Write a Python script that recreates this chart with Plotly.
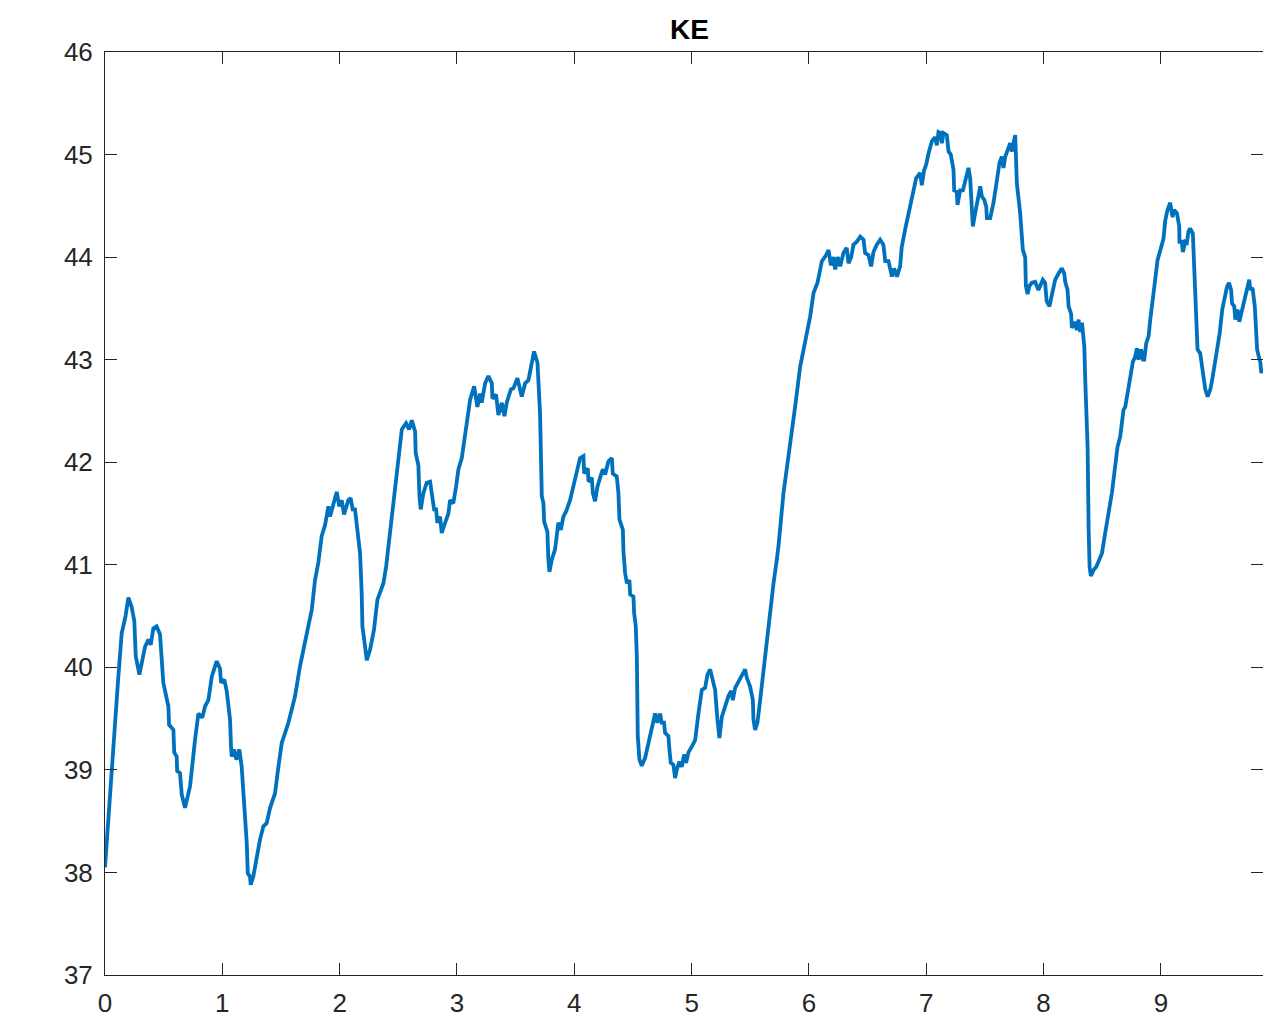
import plotly.graph_objects as go

# Time axis (s) and kinetic energy samples of the KE trace
t_vals = [
    0.000, 0.035, 0.070, 0.110, 0.142, 0.175, 0.199, 0.227, 0.250, 0.262,
    0.293, 0.341, 0.370, 0.390, 0.412, 0.440, 0.469, 0.497, 0.540, 0.546,
    0.583, 0.590, 0.611, 0.615, 0.639, 0.654, 0.682, 0.725, 0.767, 0.796,
    0.830, 0.853, 0.881, 0.910, 0.952, 0.980, 0.989, 1.017, 1.037, 1.066,
    1.074, 1.080, 1.100, 1.120, 1.145, 1.165, 1.208, 1.217, 1.236, 1.242,
    1.264, 1.293, 1.321, 1.350, 1.378, 1.407, 1.449, 1.478, 1.506, 1.535,
    1.563, 1.605, 1.620, 1.662, 1.690, 1.720, 1.762, 1.790, 1.818, 1.847,
    1.876, 1.904, 1.918, 1.946, 1.975, 1.997, 2.018, 2.037, 2.074, 2.094,
    2.111, 2.131, 2.151, 2.174, 2.188, 2.194, 2.217, 2.231, 2.259, 2.293,
    2.322, 2.350, 2.373, 2.396, 2.415, 2.444, 2.472, 2.500, 2.530, 2.566,
    2.592, 2.615, 2.643, 2.648, 2.671, 2.680, 2.691, 2.714, 2.742, 2.771,
    2.785, 2.805, 2.822, 2.833, 2.856, 2.870, 2.899, 2.927, 2.941, 2.969,
    2.992, 3.012, 3.041, 3.069, 3.097, 3.112, 3.146, 3.174, 3.197, 3.211,
    3.240, 3.268, 3.297, 3.302, 3.333, 3.353, 3.382, 3.404, 3.424, 3.459,
    3.481, 3.515, 3.552, 3.581, 3.609, 3.629, 3.657, 3.686, 3.708, 3.723,
    3.737, 3.743, 3.771, 3.779, 3.788, 3.808, 3.836, 3.864, 3.885, 3.907,
    3.930, 3.964, 3.993, 4.021, 4.049, 4.078, 4.084, 4.115, 4.121, 4.149,
    4.158, 4.177, 4.197, 4.220, 4.243, 4.263, 4.291, 4.320, 4.328, 4.362,
    4.376, 4.385, 4.414, 4.419, 4.433, 4.448, 4.470, 4.476, 4.504, 4.510,
    4.524, 4.533, 4.541, 4.555, 4.575, 4.604, 4.646, 4.689, 4.709, 4.731,
    4.745, 4.765, 4.774, 4.802, 4.810, 4.822, 4.845, 4.859, 4.873, 4.896,
    4.916, 4.936, 4.953, 4.973, 5.002, 5.030, 5.058, 5.087, 5.115, 5.135,
    5.158, 5.178, 5.200, 5.220, 5.237, 5.258, 5.286, 5.314, 5.337, 5.351,
    5.371, 5.394, 5.413, 5.436, 5.456, 5.470, 5.499, 5.522, 5.527, 5.541,
    5.561, 5.584, 5.612, 5.641, 5.669, 5.698, 5.726, 5.740, 5.783, 5.840,
    5.882, 5.925, 5.968, 6.010, 6.039, 6.073, 6.110, 6.147, 6.167, 6.187,
    6.209, 6.224, 6.245, 6.266, 6.294, 6.322, 6.337, 6.360, 6.379, 6.408,
    6.437, 6.465, 6.479, 6.507, 6.530, 6.550, 6.578, 6.607, 6.635, 6.650,
    6.678, 6.707, 6.726, 6.750, 6.777, 6.791, 6.820, 6.848, 6.877, 6.914,
    6.948, 6.962, 6.982, 6.999, 7.019, 7.048, 7.076, 7.090, 7.104, 7.124,
    7.133, 7.147, 7.175, 7.190, 7.209, 7.232, 7.238, 7.260, 7.266, 7.289,
    7.312, 7.332, 7.360, 7.374, 7.389, 7.397, 7.417, 7.437, 7.460, 7.474,
    7.494, 7.511, 7.517, 7.545, 7.573, 7.602, 7.624, 7.644, 7.658, 7.673,
    7.687, 7.715, 7.730, 7.758, 7.772, 7.800, 7.823, 7.843, 7.849, 7.863,
    7.880, 7.900, 7.928, 7.956, 7.993, 8.013, 8.026, 8.050, 8.070, 8.099,
    8.127, 8.156, 8.176, 8.184, 8.204, 8.213, 8.234, 8.241, 8.264, 8.284,
    8.298, 8.312, 8.327, 8.347, 8.355, 8.375, 8.384, 8.392, 8.403, 8.426,
    8.449, 8.468, 8.497, 8.525, 8.553, 8.582, 8.610, 8.630, 8.653, 8.667,
    8.681, 8.696, 8.710, 8.724, 8.745, 8.761, 8.781, 8.795, 8.809, 8.830,
    8.847, 8.858, 8.875, 8.895, 8.909, 8.932, 8.951, 8.971, 8.994, 9.008,
    9.022, 9.036, 9.056, 9.079, 9.099, 9.113, 9.136, 9.156, 9.158, 9.178,
    9.187, 9.207, 9.221, 9.235, 9.249, 9.272, 9.292, 9.301, 9.312, 9.335,
    9.350, 9.364, 9.378, 9.398, 9.421, 9.435, 9.455, 9.478, 9.501, 9.523,
    9.540, 9.563, 9.580, 9.598, 9.606, 9.625, 9.634, 9.653, 9.668, 9.685,
    9.699, 9.719, 9.739, 9.753, 9.761, 9.781, 9.800, 9.813, 9.820, 9.834,
    9.848, 9.855, 9.862, 9.875,
]

ke_vals = [
    38.05, 38.65, 39.25, 39.85, 40.33, 40.50, 40.68, 40.59, 40.45, 40.11,
    39.93, 40.20, 40.27, 40.22, 40.38, 40.40, 40.32, 39.85, 39.62, 39.44,
    39.39, 39.17, 39.13, 38.99, 38.97, 38.76, 38.63, 38.84, 39.29, 39.55,
    39.51, 39.62, 39.68, 39.91, 40.06, 39.99, 39.85, 39.88, 39.77, 39.49,
    39.23, 39.13, 39.20, 39.10, 39.20, 39.03, 38.29, 37.99, 37.96, 37.88,
    37.96, 38.16, 38.32, 38.45, 38.48, 38.63, 38.77, 39.03, 39.26, 39.36,
    39.46, 39.65, 39.72, 40.01, 40.19, 40.33, 40.56, 40.85, 41.02, 41.28,
    41.39, 41.57, 41.47, 41.60, 41.71, 41.57, 41.63, 41.49, 41.63, 41.65,
    41.54, 41.54, 41.36, 41.11, 40.72, 40.40, 40.20, 40.07, 40.17, 40.37,
    40.66, 40.76, 40.82, 40.98, 41.18, 41.44, 41.76, 42.09, 42.32, 42.38,
    42.32, 42.41, 42.30, 42.09, 41.97, 41.67, 41.54, 41.70, 41.80, 41.81,
    41.67, 41.54, 41.54, 41.41, 41.47, 41.31, 41.41, 41.50, 41.63, 41.60,
    41.76, 41.93, 42.04, 42.28, 42.51, 42.61, 42.74, 42.54, 42.67, 42.58,
    42.77, 42.84, 42.77, 42.62, 42.66, 42.46, 42.58, 42.45, 42.58, 42.71,
    42.72, 42.82, 42.64, 42.77, 42.80, 42.93, 43.08, 42.97, 42.48, 41.67,
    41.60, 41.42, 41.32, 41.05, 40.93, 41.05, 41.15, 41.41, 41.34, 41.47,
    41.52, 41.63, 41.78, 41.93, 42.04, 42.06, 41.89, 41.94, 41.81, 41.85,
    41.70, 41.62, 41.76, 41.85, 41.93, 41.88, 42.01, 42.04, 41.89, 41.86,
    41.70, 41.44, 41.34, 41.13, 40.92, 40.82, 40.85, 40.71, 40.69, 40.53,
    40.40, 40.10, 39.33, 39.10, 39.04, 39.12, 39.33, 39.55, 39.46, 39.55,
    39.46, 39.46, 39.36, 39.33, 39.21, 39.07, 39.05, 38.92, 39.00, 39.08,
    39.03, 39.15, 39.07, 39.17, 39.23, 39.29, 39.55, 39.78, 39.80, 39.93,
    39.98, 39.90, 39.78, 39.49, 39.31, 39.52, 39.62, 39.72, 39.77, 39.68,
    39.80, 39.85, 39.88, 39.93, 39.98, 39.90, 39.81, 39.68, 39.49, 39.39,
    39.46, 39.68, 39.98, 40.22, 40.53, 40.82, 41.05, 41.18, 41.70, 42.15,
    42.54, 42.93, 43.19, 43.42, 43.65, 43.75, 43.96, 44.02, 44.07, 43.92,
    44.00, 43.88, 44.00, 43.91, 44.04, 44.09, 43.94, 44.00, 44.12, 44.15,
    44.20, 44.17, 44.04, 44.02, 43.91, 44.05, 44.12, 44.17, 44.12, 43.96,
    43.96, 43.81, 43.89, 43.81, 43.91, 44.10, 44.27, 44.43, 44.59, 44.77,
    44.82, 44.70, 44.85, 44.90, 45.01, 45.13, 45.17, 45.09, 45.22, 45.21,
    45.11, 45.21, 45.19, 45.03, 45.00, 44.85, 44.65, 44.64, 44.51, 44.65,
    44.65, 44.75, 44.87, 44.77, 44.49, 44.30, 44.43, 44.56, 44.69, 44.59,
    44.56, 44.49, 44.38, 44.38, 44.53, 44.75, 44.92, 44.98, 44.87, 44.98,
    45.03, 45.11, 45.03, 45.19, 44.72, 44.43, 44.07, 44.00, 43.72, 43.64,
    43.72, 43.75, 43.76, 43.68, 43.78, 43.75, 43.57, 43.52, 43.63, 43.78,
    43.84, 43.89, 43.84, 43.76, 43.68, 43.52, 43.45, 43.31, 43.37, 43.29,
    43.39, 43.27, 43.36, 43.13, 42.80, 42.15, 41.34, 40.98, 40.89, 40.95,
    40.98, 41.03, 41.11, 41.31, 41.50, 41.70, 41.96, 42.15, 42.25, 42.41,
    42.51, 42.54, 42.64, 42.77, 42.90, 42.98, 43.03, 43.11, 43.00, 43.10,
    43.00, 43.00, 43.16, 43.23, 43.39, 43.58, 43.78, 43.97, 44.07, 44.14,
    44.18, 44.35, 44.46, 44.53, 44.39, 44.46, 44.43, 44.30, 44.15, 44.15,
    44.05, 44.15, 44.14, 44.25, 44.28, 44.23, 43.71, 43.45, 43.10, 43.06,
    42.93, 42.80, 42.71, 42.64, 42.71, 42.79, 42.93, 43.06, 43.26, 43.49,
    43.60, 43.71, 43.75, 43.68, 43.55, 43.52, 43.39, 43.49, 43.37, 43.45,
    43.52, 43.63, 43.71, 43.78, 43.68, 43.70, 43.52, 43.32, 43.10, 43.03,
    42.97, 42.87, 42.90, 42.88,
]

x_ticks = [0, 1, 2, 3, 4, 5, 6, 7, 8, 9]
y_ticks = [37, 38, 39, 40, 41, 42, 43, 44, 45, 46]

axis_color = "#262626"
font_family = "Liberation Sans, Arial, Helvetica, sans-serif"

fig = go.Figure()
fig.add_trace(go.Scatter(
    x=t_vals, y=ke_vals, mode="lines",
    line=dict(color="#0072BD", width=3.8),
    showlegend=False, hoverinfo="skip",
))

common_axis = dict(
    showgrid=False, zeroline=False, showline=True, linecolor=axis_color,
    linewidth=1, mirror="ticks", ticks="inside", ticklen=12, tickwidth=1,
    tickcolor=axis_color, automargin=False,
    tickfont=dict(family=font_family, size=26, color=axis_color),
)

fig.update_xaxes(range=[0, 9.87], tickmode="array", tickvals=x_ticks,
                 ticklabelstandoff=5, **common_axis)
fig.update_yaxes(range=[37, 46], tickmode="array", tickvals=y_ticks,
                 ticklabelstandoff=6, **common_axis)

fig.add_annotation(
    text="<b>KE</b>", xref="paper", yref="paper", x=0.505, y=1.0,
    xanchor="center", yanchor="bottom", yshift=5, showarrow=False,
    font=dict(family=font_family, size=28, color="#000000"),
)

fig.update_layout(
    width=1263, height=1017,
    margin=dict(l=105, r=0, t=52, b=42),
    paper_bgcolor="white", plot_bgcolor="white",
)

fig.write_html("out.html")
